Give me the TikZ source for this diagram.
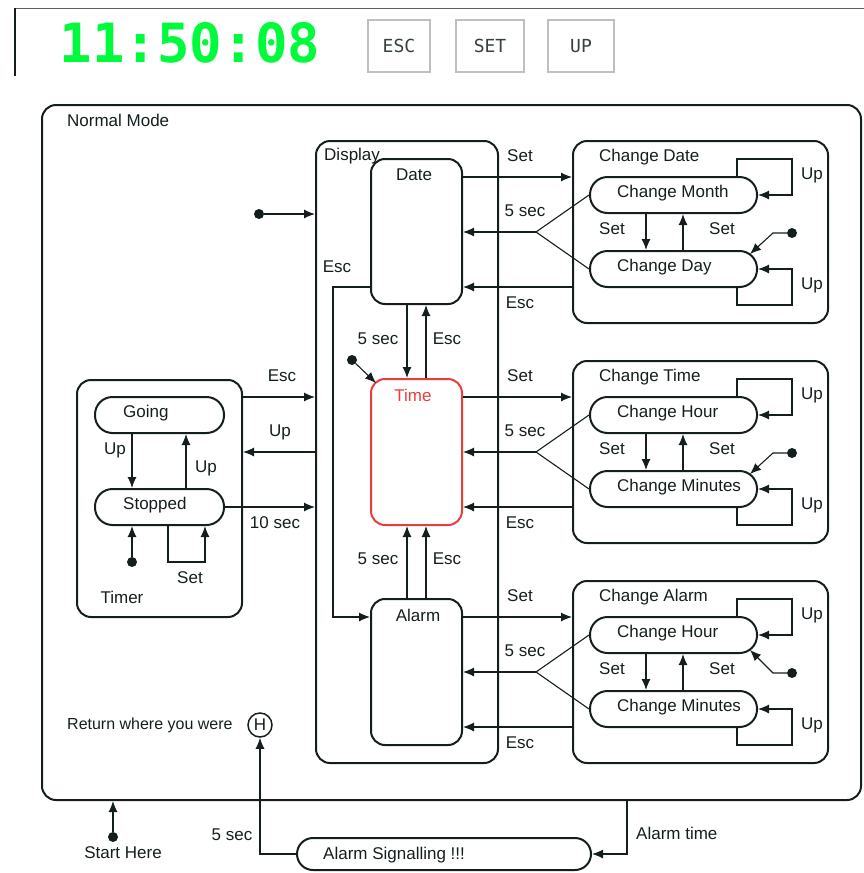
\documentclass[tikz,border=0pt]{standalone}
\usepackage{fontspec}
\setmainfont{Liberation Sans}
\newfontfamily\clockfont{DejaVu Sans Mono}
\usetikzlibrary{arrows.meta,calc}
\definecolor{ink}{RGB}{20,30,30}
\definecolor{clockgreen}{RGB}{0,250,60}
\definecolor{timered}{RGB}{235,60,60}
\begin{document}
\begin{tikzpicture}[x=1pt,y=-1pt,
 box/.style={draw=ink,line width=2pt,rounded corners=14pt,inner sep=0pt},
 pill/.style={draw=ink,line width=2pt,rounded corners=17.5pt,minimum height=36pt,inner sep=0pt},
 conn/.style={draw=ink,line width=1.1pt},
 arr/.style={conn,-{Latex[length=11pt,width=9pt]}},
 lbl/.style={font=\fontsize{17}{19}\selectfont,text=ink,inner sep=0pt},
 dotst/.style={circle,fill=ink,minimum size=10pt,inner sep=0pt},
 btn/.style={draw=gray!50,line width=2pt,inner sep=0pt,font=\clockfont\fontsize{18}{20}\selectfont,text=ink!85}]
\useasboundingbox (0,0) rectangle (864,873);
% top bar
\draw[draw=ink!70,line width=1pt] (15,8) -- (864,8);
\draw[draw=ink,line width=2pt] (15,76) -- (15,7.5);
\node[font=\clockfont\bfseries\fontsize{54}{56}\selectfont,text=clockgreen,inner sep=0pt] (clock) at (190,43) {11:50:08};
\node[btn,minimum width=62pt,minimum height=52pt] (besc) at (399,46) {ESC};
\node[btn,minimum width=68pt,minimum height=52pt] (bset) at (490,46) {SET};
\node[btn,minimum width=66pt,minimum height=52pt] (bup) at (581,46) {UP};
% Normal mode
\node[box,minimum width=819pt,minimum height=695pt] (normal) at (451.5,452.5) {};
\node[lbl,anchor=west] (nml) at (67,120) {Normal Mode};
% Display
\node[box,minimum width=182pt,minimum height=622pt] (display) at (407,452) {};
\node[lbl,anchor=west] (dspl) at (324,156) {Display};
\node[box,minimum width=91pt,minimum height=145pt] (dd) at (416.5,231.5) {};
\node[box,draw=timered,minimum width=91pt,minimum height=146pt] (dt) at (416.5,452) {};
\node[box,minimum width=91pt,minimum height=146pt] (da) at (416.5,672) {};
\node[lbl] (ddl) at (414,175) {Date};
\node[lbl,text=timered] (dtl) at (413,395) {Time};
\node[lbl] (dal) at (418,615) {Alarm};
% display initial
\node[dotst] (idisp) at (259,214) {};
\draw[arr] (idisp) -- (display.west |- idisp);
\node[dotst] (itime) at (352,360) {};
\draw[arr] (itime) -- (376,383);
% Esc date -> alarm
\draw[arr] (dd.west |- 0,287) -- (333,287) -- (333,617) -- (da.west |- 0,617);
\node[lbl] (escl) at (337,267) {Esc};
% vertical arrows
\draw[arr] (dd.south -| 407,0) -- (dt.north -| 407,0);
\draw[arr] (dt.north -| 426,0) -- (dd.south -| 426,0);
\draw[arr] (da.north -| 407,0) -- (dt.south -| 407,0);
\draw[arr] (da.north -| 426,0) -- (dt.south -| 426,0);
\node[lbl] (v1) at (378,339) {5 sec};
\node[lbl] (v2) at (447,339) {Esc};
\node[lbl] (v3) at (378,559) {5 sec};
\node[lbl] (v4) at (447,559) {Esc};
% right containers
\foreach \s/\o/\ttl/\ta/\tb in {d/0/Change Date/Change Month/Change Day,t/220/Change Time/Change Hour/Change Minutes,a/440/Change Alarm/Change Hour/Change Minutes}{
  \node[box,minimum width=255pt,minimum height=182pt] (c\s) at (700.5,232+\o) {};
  \node[lbl,anchor=west] (ct\s) at (599,157+\o) {\ttl};
  \node[pill,minimum width=167pt] (p\s1) at (673.5,195+\o) {};
  \node[pill,minimum width=167pt] (p\s2) at (673.5,269+\o) {};
  \node[lbl,anchor=west] (pt\s1) at (617,193+\o) {\ta};
  \node[lbl,anchor=west] (pt\s2) at (617,267+\o) {\tb};
  \coordinate (b\s) at (536,232+\o);
  \draw[conn] (p\s1.west) -- (b\s) -- (p\s2.west);
  \draw[arr] (b\s) -- (d\s.east |- b\s);
  \draw[arr] (d\s.east |- 0,177+\o) -- (c\s.west |- 0,177+\o);
  \draw[arr] (c\s.west |- 0,287+\o) -- (d\s.east |- 0,287+\o);
  \node[lbl] (ls\s) at (520,156+\o) {Set};
  \node[lbl] (lf\s) at (525,211+\o) {5 sec};
  \node[lbl] (le\s) at (520,303+\o) {Esc};
  \draw[arr] (p\s1.south -| 646,0) -- (p\s2.north -| 646,0);
  \draw[arr] (p\s2.north -| 683,0) -- (p\s1.south -| 683,0);
  \node[lbl] (sa\s) at (612,229+\o) {Set};
  \node[lbl] (sb\s) at (722,229+\o) {Set};
  \draw[arr] (p\s1.north -| 737,0) -- (737,159+\o) -- (792,159+\o) -- (792,195+\o) -- (p\s1.east);
  \draw[arr] (p\s2.south -| 737,0) -- (737,305+\o) -- (792,305+\o) -- (792,269+\o) -- (p\s2.east);
  \node[lbl] (ua\s) at (812,175+\o) {Up};
  \node[lbl] (ub\s) at (812,285+\o) {Up};
}
\node[dotst] (icd) at (792,233) {};
\draw[arr] (icd) -- (773,233) -- (750,254);
\node[dotst] (ict) at (792,453) {};
\draw[arr] (ict) -- (773,453) -- (750,474);
\node[dotst] (ica) at (792,673) {};
\draw[arr] (ica) -- (773,673) -- (750,650);
% Timer
\node[box,minimum width=165pt,minimum height=237pt] (timer) at (159.5,498.5) {};
\node[pill,minimum width=129pt] (going) at (159.5,415) {};
\node[pill,minimum width=129pt] (stopped) at (159.5,507) {};
\node[lbl,anchor=west] (gol) at (123,413) {Going};
\node[lbl,anchor=west] (stl) at (123,505) {Stopped};
\node[lbl] (tml) at (122,597) {Timer};
\draw[arr] (going.south -| 132,0) -- (stopped.north -| 132,0);
\draw[arr] (stopped.north -| 186,0) -- (going.south -| 186,0);
\node[lbl] (tu1) at (115,450) {Up};
\node[lbl] (tu2) at (206,468) {Up};
\node[dotst] (itimer) at (132,562) {};
\draw[arr] (itimer) -- (stopped.south -| itimer);
\draw[arr] (stopped.south -| 168,0) -- (168,562) -- (205,562) -- (stopped.south -| 205,0);
\node[lbl] (tset) at (190,578) {Set};
\draw[arr] (timer.east |- 0,397) -- (display.west |- 0,397);
\draw[arr] (display.west |- 0,452) -- (timer.east |- 0,452);
\draw[arr] (stopped.east) -- (display.west |- stopped.east);
\node[lbl] (te) at (282,376) {Esc};
\node[lbl] (tu) at (280,432) {Up};
\node[lbl] (t10) at (275,523) {10 sec};
% history
\node[lbl,font=\fontsize{16}{18}\selectfont,anchor=west] (rw) at (67,725) {Return where you were};
\node[lbl,draw=ink,line width=1.5pt,circle,minimum size=24pt,inner sep=0pt] (hist) at (260,725) {H};
% bottom
\node[dotst] (istart) at (113,837) {};
\draw[arr] (istart) -- (normal.south -| istart);
\node[lbl] (sh) at (123,853) {Start Here};
\node[pill,rounded corners=16pt,minimum height=32pt,minimum width=294pt] (asig) at (444,854) {};
\node[lbl,anchor=west] (asl) at (323,855) {Alarm Signalling !!!};
\draw[arr] (normal.south -| 627,0) -- (627,854) -- (asig.east);
\node[lbl,anchor=west] (atl) at (636,833) {Alarm time};
\draw[arr] (asig.west) -- (260,854) -- (hist.south);
\node[lbl] (l5) at (232,835) {5 sec};
\end{tikzpicture}
\end{document}
